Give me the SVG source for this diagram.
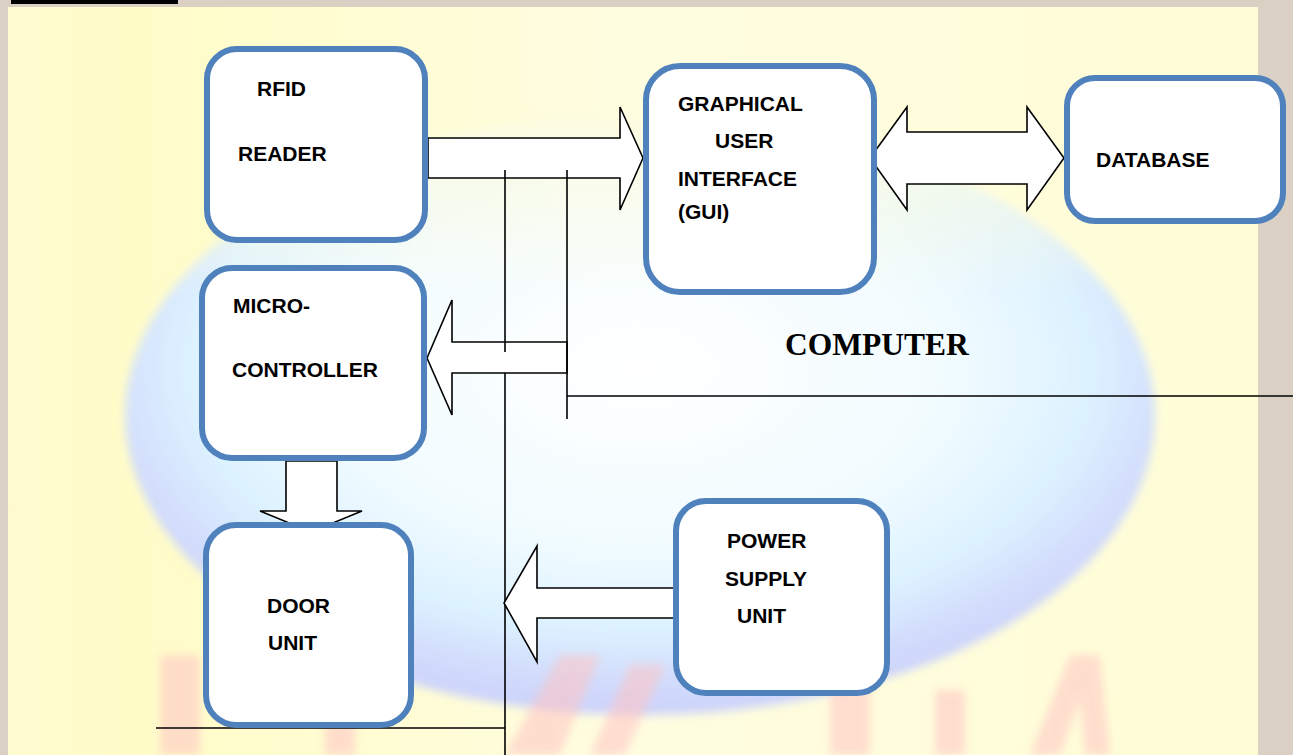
<svg xmlns="http://www.w3.org/2000/svg" width="1293" height="755" viewBox="0 0 1293 755">
<defs>
<style>
.box{fill:#ffffff;stroke:#4f81bd;stroke-width:6}
.lbl{font-family:"Liberation Sans",Arial,sans-serif;font-weight:bold;font-size:21px;fill:#000}
.cap{font-family:"Liberation Serif","Times New Roman",serif;font-weight:bold;font-size:31.5px;fill:#000}
.arr{fill:#ffffff;stroke:#000;stroke-width:1.6;stroke-linejoin:miter}
.ln{stroke:#000;stroke-width:1.6;fill:none}
</style>
<linearGradient id="panel" x1="0" y1="0" x2="1" y2="0">
<stop offset="0" stop-color="#fffbd0"/>
<stop offset="0.1" stop-color="#fffcc8"/>
<stop offset="0.5" stop-color="#fffde0"/>
<stop offset="1" stop-color="#fffdd6"/>
</linearGradient>
<radialGradient id="globe" cx="0.5" cy="0.42" r="0.58">
<stop offset="0" stop-color="#ffffff"/>
<stop offset="0.5" stop-color="#f2fcff"/>
<stop offset="0.75" stop-color="#ddf2ff"/>
<stop offset="0.9" stop-color="#d2dcfc"/>
<stop offset="1" stop-color="#ccd2fb"/>
</radialGradient>
<linearGradient id="globeTop" x1="0" y1="0" x2="0" y2="1">
<stop offset="0" stop-color="#fffde0" stop-opacity="1"/>
<stop offset="0.12" stop-color="#fffde0" stop-opacity="0.6"/>
<stop offset="0.3" stop-color="#fffde0" stop-opacity="0"/>
</linearGradient>
<filter id="soft" x="-10%" y="-10%" width="120%" height="120%">
<feGaussianBlur stdDeviation="5"/>
</filter>
<filter id="soft2" x="-20%" y="-20%" width="140%" height="140%">
<feGaussianBlur stdDeviation="4"/>
</filter>
</defs>

<g id="background">
<rect x="0" y="0" width="1293" height="755" fill="#dad1c4"/>
<rect x="8" y="7" width="1250" height="748" fill="url(#panel)"/>
<rect x="11" y="0" width="167" height="4" fill="#000"/>
<g filter="url(#soft)">
<ellipse cx="640" cy="415" rx="515" ry="300" fill="url(#globe)"/>
<ellipse cx="640" cy="415" rx="515" ry="300" fill="url(#globeTop)"/>
</g>
<g fill="#ffc4c4" opacity="0.55" filter="url(#soft2)">
<rect x="160" y="655" width="40" height="100"/>
<rect x="325" y="680" width="30" height="75"/>
<polygon points="505,755 560,655 600,655 560,755"/>
<polygon points="590,755 630,665 665,665 625,755"/>
<rect x="830" y="665" width="40" height="90"/>
<rect x="935" y="690" width="30" height="65"/>
<polygon points="1030,755 1070,655 1100,655 1110,755 1085,755 1080,700 1060,755"/>
</g>
</g>

<g id="connectors">
<polygon class="arr" points="428,138 620,138 620,107 643,158 620,210 620,178 428,178"/>
<polygon class="arr" points="870,158 907,107 907,132 1027,132 1027,107 1064,158 1027,210 1027,184 907,184 907,210"/>
<polygon class="arr" points="286,461 286,511 260,511 311,532 362,511 337,511 337,461"/>
<line class="ln" x1="505" y1="170" x2="505" y2="352"/>
<line class="ln" x1="505" y1="373" x2="505" y2="755"/>
<polygon class="arr" points="567,342 452,342 452,300 427,358 452,415 452,373 567,373"/>
<line class="ln" x1="505" y1="342" x2="505" y2="352"/>
<line class="ln" x1="567" y1="170" x2="567" y2="419"/>
<line class="ln" x1="567" y1="396" x2="1293" y2="396"/>
<polygon class="arr" points="675,588 537,588 537,546 504,603 537,662 537,618 675,618"/>
<line class="ln" x1="156" y1="728" x2="505" y2="728"/>
</g>

<g id="rfid-reader">
<rect class="box" x="207" y="49" width="218" height="191" rx="30"/>
<text class="lbl" x="257" y="96">RFID</text>
<text class="lbl" x="238" y="161">READER</text>
</g>

<g id="gui">
<rect class="box" x="646" y="66" width="228" height="226" rx="34"/>
<text class="lbl" x="678" y="111">GRAPHICAL</text>
<text class="lbl" x="715" y="148">USER</text>
<text class="lbl" x="678" y="186">INTERFACE</text>
<text class="lbl" x="678" y="219">(GUI)</text>
</g>

<g id="database">
<rect class="box" x="1067" y="78" width="216" height="143" rx="28"/>
<text class="lbl" x="1096" y="167">DATABASE</text>
</g>

<g id="microcontroller">
<rect class="box" x="202" y="268" width="222" height="190" rx="30"/>
<text class="lbl" x="233" y="313">MICRO-</text>
<text class="lbl" x="232" y="377">CONTROLLER</text>
</g>

<g id="door-unit">
<rect class="box" x="206" y="525" width="205" height="200" rx="30"/>
<text class="lbl" x="267" y="613">DOOR</text>
<text class="lbl" x="268" y="650">UNIT</text>
</g>

<g id="power-supply">
<rect class="box" x="676" y="501" width="211" height="192" rx="30"/>
<text class="lbl" x="727" y="548">POWER</text>
<text class="lbl" x="725" y="586">SUPPLY</text>
<text class="lbl" x="737" y="623">UNIT</text>
</g>

<g id="computer-label">
<text class="cap" x="785" y="355">COMPUTER</text>
</g>
</svg>
